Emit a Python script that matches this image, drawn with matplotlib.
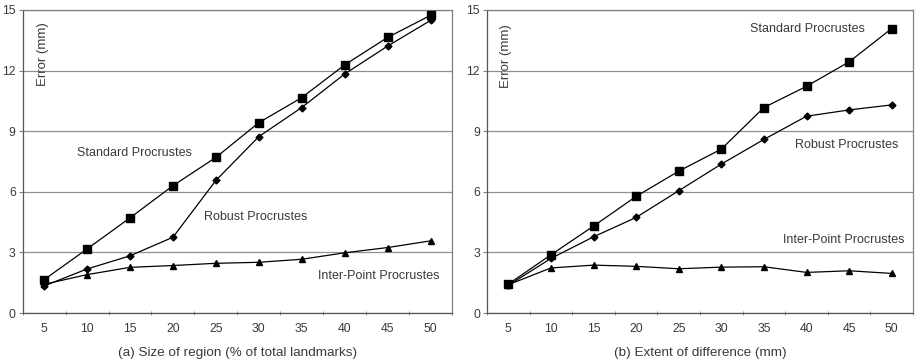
import matplotlib.pyplot as plt
import numpy as np

plt.rcParams['font.family'] = ['Liberation Sans', 'DejaVu Sans']

x_ticks = [5, 10, 15, 20, 25, 30, 35, 40, 45, 50]

# (a) size of region
a_standard = [1.65, 3.17, 4.71, 6.30, 7.70, 9.42, 10.66, 12.28, 13.64, 14.73]
a_robust = [1.34, 2.18, 2.83, 3.75, 6.56, 8.73, 10.17, 11.83, 13.21, 14.48]
a_inter = [1.42, 1.90, 2.26, 2.35, 2.46, 2.51, 2.66, 2.98, 3.24, 3.57]

# (b) extent of difference
b_standard = [1.43, 2.88, 4.30, 5.77, 7.02, 8.11, 10.17, 11.22, 12.43, 14.08]
b_robust = [1.37, 2.70, 3.77, 4.73, 6.05, 7.37, 8.59, 9.74, 10.05, 10.30]
b_inter = [1.40, 2.23, 2.37, 2.31, 2.19, 2.27, 2.29, 2.01, 2.09, 1.96]

fig = plt.figure(figsize=(9.18, 3.63), dpi=100)
ax1 = fig.add_axes([0.0247, 0.1377, 0.4677, 0.835])
ax2 = fig.add_axes([0.5305, 0.1377, 0.4641, 0.835])

grey = '#808080'
txtcol = '#3a3a3a'


def draw(ax, std, rob, inter, xlabel, labels):
    idx = np.arange(len(x_ticks))
    ax.plot(idx, std, color='black', lw=0.9, marker='s', ms=5.5, zorder=4)
    ax.plot(idx, rob, color='black', lw=0.9, marker='D', ms=3.5, zorder=4)
    ax.plot(idx, inter, color='black', lw=0.9, marker='^', ms=4.5, zorder=4)
    ax.set_xlim(-0.5, len(x_ticks) - 0.5)
    ax.set_ylim(0, 15)
    ax.set_yticks([0, 3, 6, 9, 12, 15])
    ax.set_xticks(idx)
    ax.set_xticklabels([str(v) for v in x_ticks])
    ax.set_xticks(np.arange(-0.5, len(x_ticks)), minor=True)
    ax.tick_params(axis='x', which='major', length=0, labelsize=8.8,
                   colors=txtcol, pad=7)
    ax.tick_params(axis='x', which='minor', length=3, color=grey,
                   direction='inout')
    ax.tick_params(axis='y', length=3, color=grey, labelsize=8.8,
                   colors=txtcol, pad=2)
    ax.grid(axis='y', color='#909090', lw=0.9)
    for s in ax.spines.values():
        s.set_color(grey)
        s.set_linewidth(0.9)
    ax.spines['left'].set_color('#555555')
    ax.spines['bottom'].set_color('#555555')
    ax.set_xlabel(xlabel, fontsize=9.7, color=txtcol, labelpad=9)
    for txt, x, y in labels:
        ax.text(x, y, txt, fontsize=9, color=txtcol, ha='left',
                va='center', zorder=5)


draw(ax1, a_standard, a_robust, a_inter,
     '(a) Size of region (% of total landmarks)',
     [('Standard Procrustes', 0.76, 7.93),
      ('Robust Procrustes', 3.72, 4.73),
      ('Inter-Point Procrustes', 6.39, 1.82),
      ('Error (mm)', -0.03, 12.8)])
draw(ax2, b_standard, b_robust, b_inter,
     '(b) Extent of difference (mm)',
     [('Standard Procrustes', 5.67, 14.04),
      ('Robust Procrustes', 6.73, 8.31),
      ('Inter-Point Procrustes', 6.45, 3.59),
      ('Error (mm)', -0.05, 12.7)])

# rotate the y captions
for ax in (ax1, ax2):
    t = ax.texts[-1]
    t.set_rotation(90)
    t.set_ha('center')
    t.set_fontsize(9.5)

fig.savefig('out.png', dpi=100)
